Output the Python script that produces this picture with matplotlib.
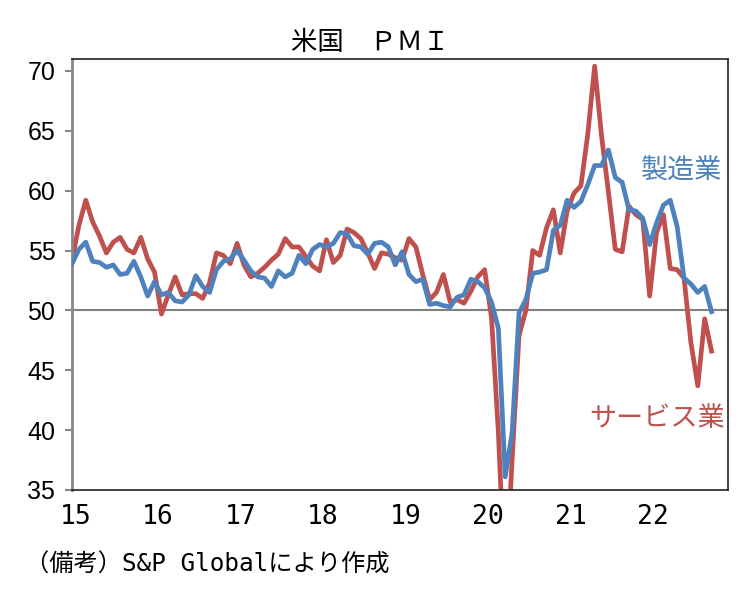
import matplotlib
matplotlib.use('Agg')
import matplotlib.pyplot as plt
import numpy as np

plt.rcParams['font.family'] = ['Noto Sans CJK JP', 'DejaVu Sans']

# US PMI, monthly, Jan 2015 - Oct 2022
manufacturing = [
    53.9, 55.1, 55.7, 54.1, 54.0, 53.6, 53.8, 53.0, 53.1, 54.1, 52.8, 51.2,
    52.4, 51.3, 51.5, 50.8, 50.7, 51.3, 52.9, 52.0, 51.5, 53.4, 54.1, 54.3,
    55.0, 54.2, 53.3, 52.8, 52.7, 52.0, 53.3, 52.8, 53.1, 54.6, 53.9, 55.1,
    55.5, 55.3, 55.6, 56.5, 56.4, 55.4, 55.3, 54.7, 55.6, 55.7, 55.3, 53.8,
    54.9, 53.0, 52.4, 52.6, 50.5, 50.6, 50.4, 50.3, 51.1, 51.3, 52.6, 52.4,
    51.9, 50.7, 48.5, 36.1, 39.8, 49.8, 50.9, 53.1, 53.2, 53.4, 56.7, 57.1,
    59.2, 58.6, 59.1, 60.5, 62.1, 62.1, 63.4, 61.1, 60.7, 58.4, 58.3, 57.7,
    55.5, 57.3, 58.8, 59.2, 57.0, 52.7, 52.2, 51.5, 52.0, 49.9,
]
services = [
    54.2, 57.1, 59.2, 57.4, 56.2, 54.8, 55.7, 56.1, 55.1, 54.8, 56.1, 54.3,
    53.2, 49.7, 51.3, 52.8, 51.3, 51.4, 51.4, 51.0, 52.3, 54.8, 54.6, 53.9,
    55.6, 53.8, 52.8, 53.1, 53.6, 54.2, 54.7, 56.0, 55.3, 55.3, 54.5, 53.7,
    53.3, 55.9, 54.0, 54.6, 56.8, 56.5, 56.0, 54.8, 53.5, 54.8, 54.7, 54.4,
    54.2, 56.0, 55.3, 53.0, 50.9, 51.5, 53.0, 50.7, 50.9, 50.6, 51.6, 52.8,
    53.4, 49.4, 39.8, 26.7, 37.5, 47.9, 50.0, 55.0, 54.6, 56.9, 58.4, 54.8,
    58.3, 59.8, 60.4, 64.7, 70.4, 64.6, 59.9, 55.1, 54.9, 58.7, 58.0, 57.6,
    51.2, 56.5, 58.0, 53.5, 53.4, 52.7, 47.3, 43.7, 49.3, 46.6,
]
year_labels = ['15', '16', '17', '18', '19', '20', '21', '22']
y_ticks = [35, 40, 45, 50, 55, 60, 65, 70]

blue = '#4F81BD'
red = '#C0504D'

fig = plt.figure(figsize=(7.55, 6.03), dpi=100)
ax = fig.add_axes([0.0954, 0.1874, 0.8689, 0.7148])

x = np.arange(len(manufacturing))
ax.axhline(50, color='#808080', lw=1.5, zorder=1)
ax.plot(x, manufacturing, color=blue, lw=3.4, zorder=3)
ax.plot(x, services, color=red, lw=3.4, zorder=2)

ax.set_ylim(35, 71)
ax.set_xlim(0, 95.4)
ax.set_yticks(y_ticks)
ax.set_yticklabels([str(v) for v in y_ticks], fontsize=18, family=['Liberation Sans'])
ax.tick_params(axis='y', direction='out', length=5, width=1.5, color='#868686', pad=7)

ax.set_xticks([12 * i + 0.5 for i in range(len(year_labels))])
ax.set_xticklabels(year_labels, fontsize=19,
                   family=['Liberation Sans Narrow', 'DejaVu Sans Mono'])
ax.tick_params(axis='x', length=0, pad=10)

for side in ['top', 'right', 'bottom']:
    ax.spines[side].set_color('#222222')
    ax.spines[side].set_linewidth(1.2)
ax.spines['left'].set_color('#868686')
ax.spines['left'].set_linewidth(2)

ax.text(0.930, 0.739, '製造業', color=blue, fontsize=19.5, ha='center', va='center',
        transform=ax.transAxes)
ax.text(0.892, 0.165, 'サービス業', color=red, fontsize=19.5, ha='center', va='center',
        transform=ax.transAxes)

fig.text(370 / 755, 0.929, '米国　ＰＭＩ', fontsize=19, ha='center', va='center')
fig.text(25 / 755, 0.063, '（備考）S&P Globalにより作成', fontsize=17.5, ha='left', va='center',
         family=['DejaVu Sans Mono', 'Noto Sans CJK JP'])

fig.savefig('out.png', dpi=100)
